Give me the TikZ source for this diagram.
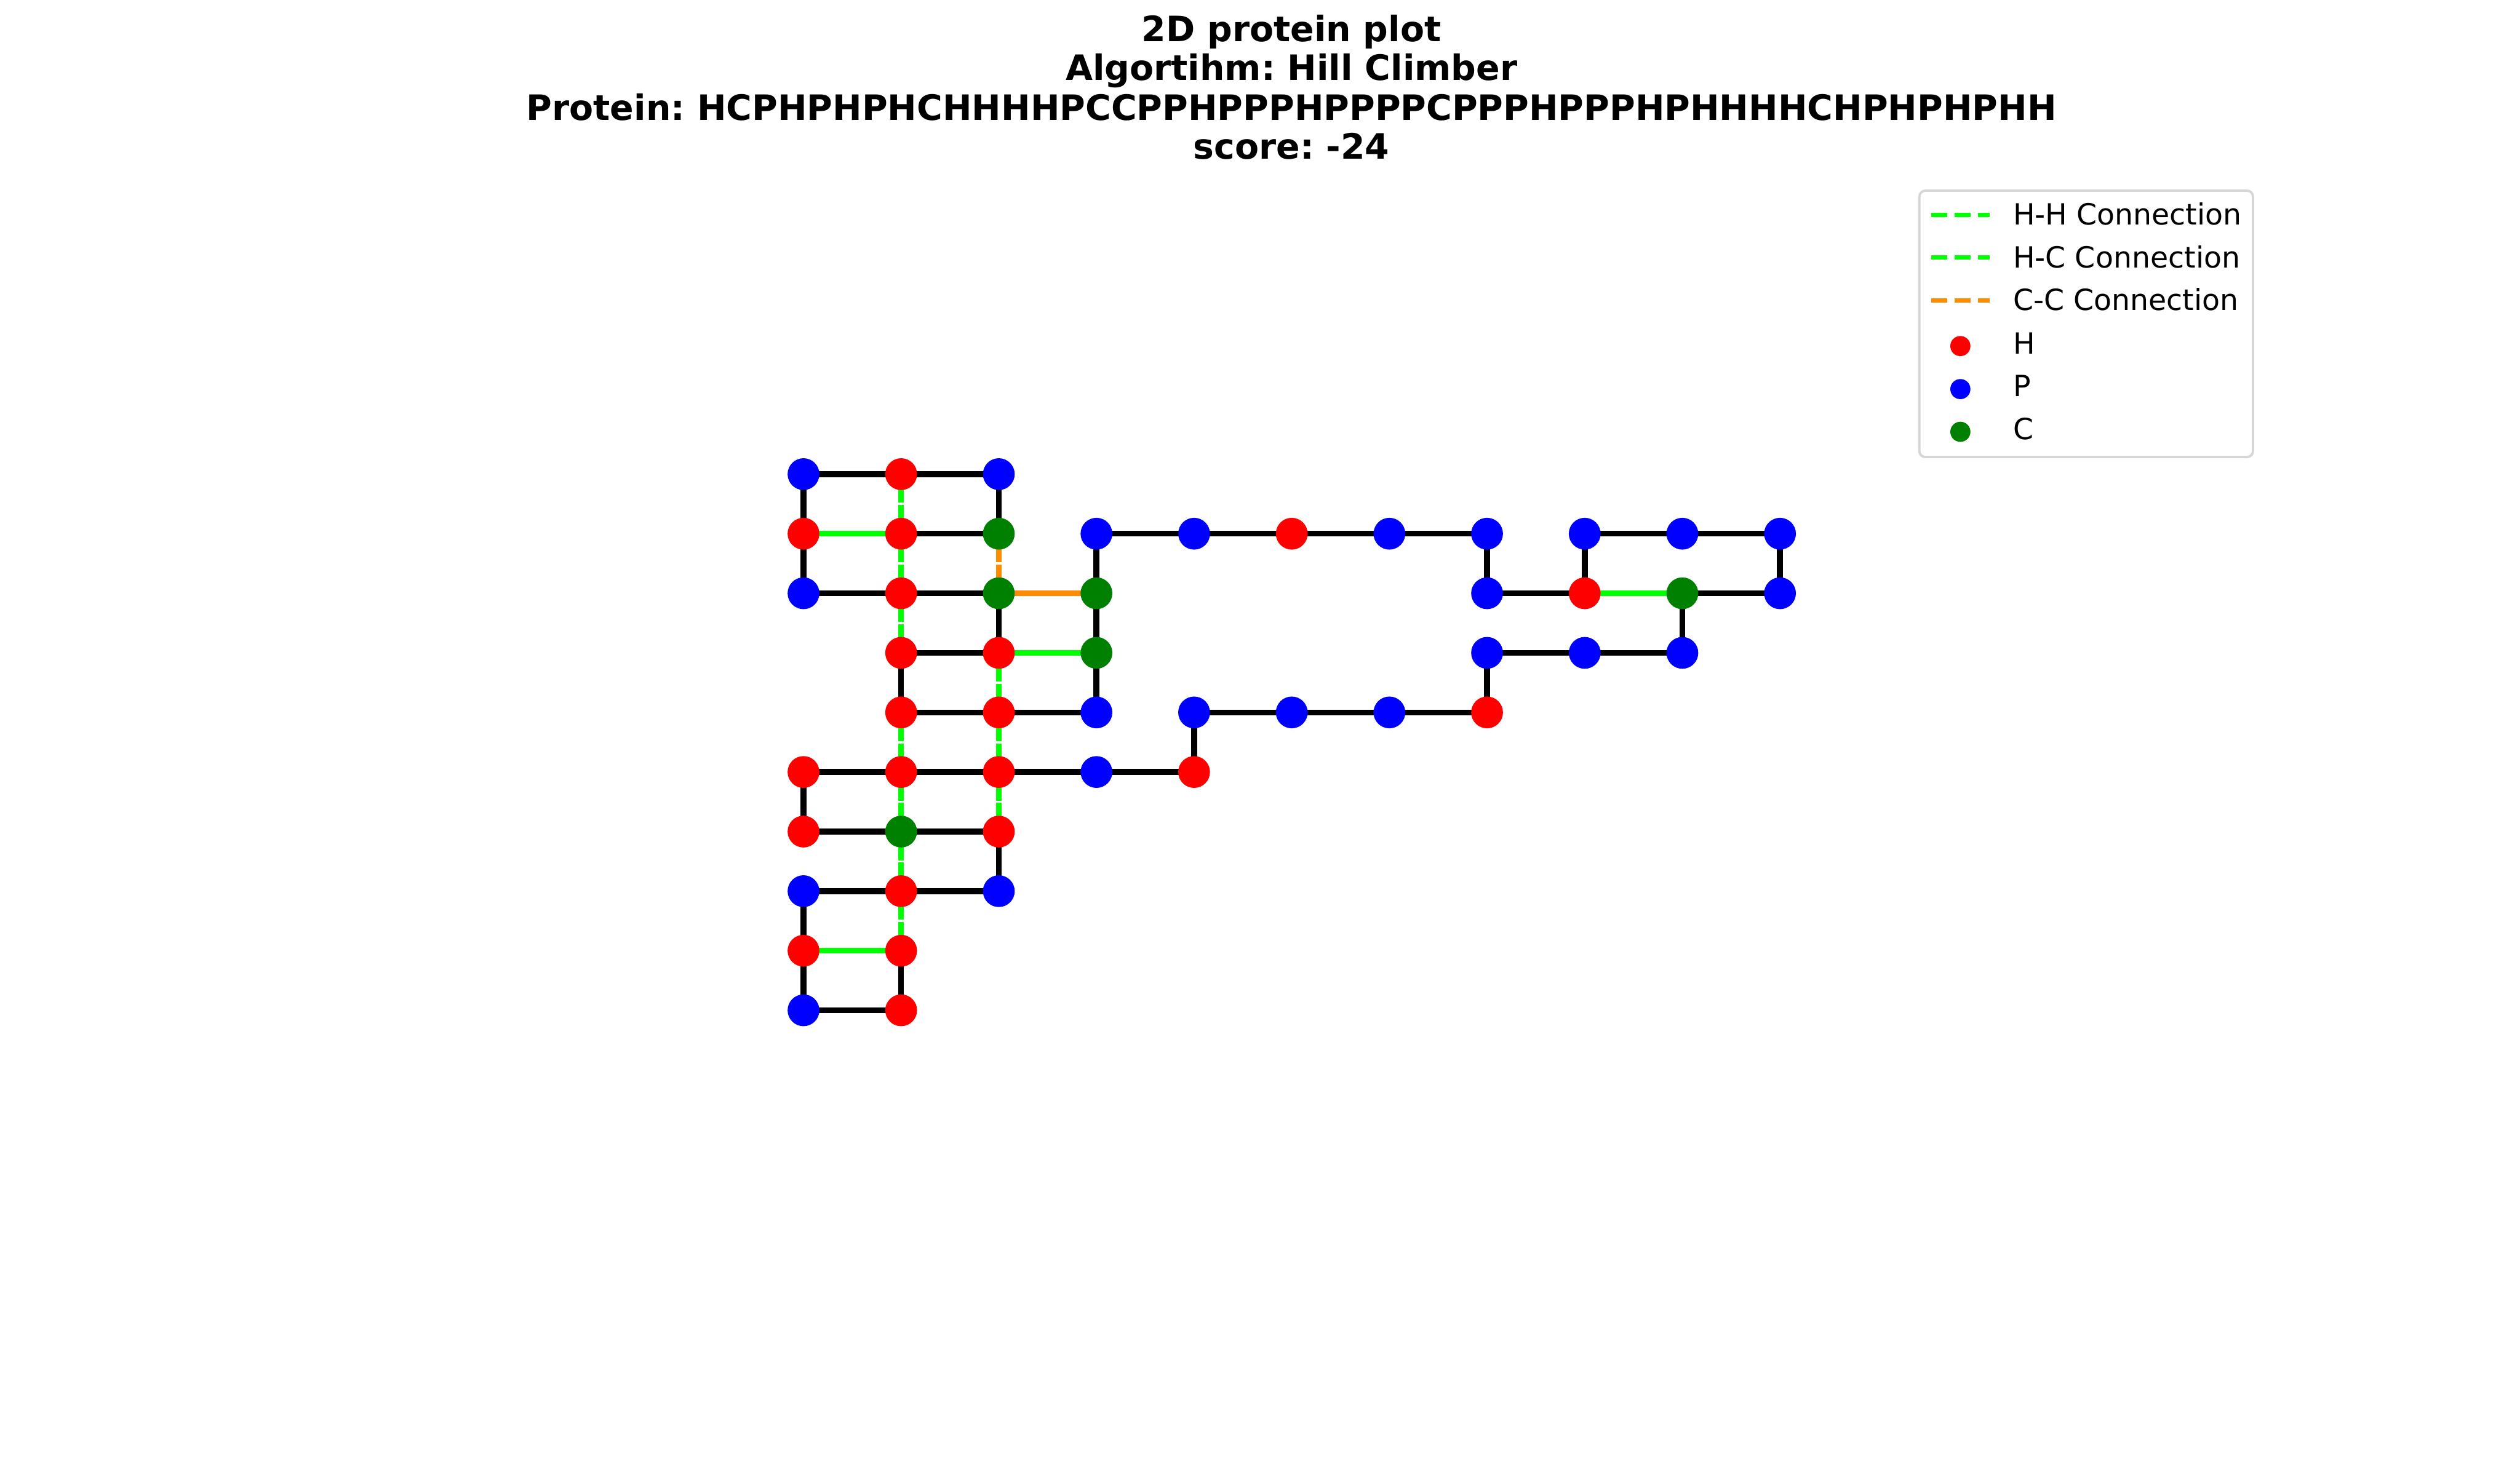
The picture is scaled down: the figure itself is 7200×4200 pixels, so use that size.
\documentclass[tikz,border=0pt]{standalone}
\usepackage{fontspec}
\setmainfont{DejaVu Sans}
\usepackage{tikz}
\usetikzlibrary{backgrounds}
\frenchspacing
\definecolor{hgreen}{rgb}{0,1,0}
\definecolor{ccorange}{rgb}{1,0.549,0}
\definecolor{cgreen}{rgb}{0,0.5,0}
\definecolor{framegray}{gray}{0.84}
\tikzset{
    site/.style={circle, draw=none, inner sep=0pt, minimum size=10.9pt},
    node_h/.style={site, fill=red},
    node_p/.style={site, fill=blue},
    node_c/.style={site, fill=cgreen},
    bond/.style={black, line width=2pt},
    contact_hh/.style={hgreen, line width=2pt, dash pattern=on 7.4pt off 3.2pt},
    contact_cc/.style={ccorange, line width=2pt, dash pattern=on 7.4pt off 3.2pt},
    key_line/.style={line width=1.5pt, dash pattern=on 5.55pt off 2.4pt},
    key_dot/.style={circle, draw=none, inner sep=0pt, minimum size=6.9pt},
    key_text/.style={anchor=base west, inner sep=0pt, font=\fontsize{10}{12}\selectfont},
    title_line/.style={anchor=base, inner sep=0pt, font=\fontsize{12}{14}\selectfont\bfseries}
}
\begin{document}
\begin{tikzpicture}[x=0.12pt, y=-0.12pt]
            \useasboundingbox (0,0) rectangle (7200,4200);

            % Title
            \node[title_line] (title1) at (3690,118) {2D protein plot};
            \node[title_line] (title2) at (3690,230) {Algortihm: Hill Climber};
            \node[title_line] (title3) at (3690,343) {Protein: HCPHPHPHCHHHHPCCPPHPPPHPPPPCPPPHPPPHPHHHHCHPHPHPHH};
            \node[title_line] (title4) at (3690,454) {score: -24};

            % Amino acids (index/column/row/type)
            \foreach \i/\c/\r/\t in {1/1/1/h, 2/2/1/c, 3/2/0/p, 4/1/0/h, 5/0/0/p, 6/0/1/h, 7/0/2/p, 8/1/2/h, 9/2/2/c, 10/2/3/h,
                                     11/1/3/h, 12/1/4/h, 13/2/4/h, 14/3/4/p, 15/3/3/c, 16/3/2/c, 17/3/1/p, 18/4/1/p, 19/5/1/h, 20/6/1/p,
                                     21/7/1/p, 22/7/2/p, 23/8/2/h, 24/8/1/p, 25/9/1/p, 26/10/1/p, 27/10/2/p, 28/9/2/c, 29/9/3/p, 30/8/3/p,
                                     31/7/3/p, 32/7/4/h, 33/6/4/p, 34/5/4/p, 35/4/4/p, 36/4/5/h, 37/3/5/p, 38/2/5/h, 39/1/5/h, 40/0/5/h,
                                     41/0/6/h, 42/1/6/c, 43/2/6/h, 44/2/7/p, 45/1/7/h, 46/0/7/p, 47/0/8/h, 48/0/9/p, 49/1/9/h, 50/1/8/h}
                \node[node_\t] (n\i) at ({2295.7+279*\c},{1355+170.26*\r}) {};

            \begin{scope}[on background layer]
                % Backbone
                \foreach \a [count=\nxt from 2] in {1,...,49}
                    \draw[bond] (n\a.center) -- (n\nxt.center);

                % H-H and H-C contacts (drawn from both ends)
                \foreach \p/\q in {4/1, 1/8, 8/11, 10/13, 12/39, 13/38, 39/42, 38/43, 42/45, 45/50, 6/1, 10/15, 47/50, 23/28} {
                    \draw[contact_hh] (n\p.center) -- (n\q.center);
                    \draw[contact_hh] (n\q.center) -- (n\p.center);
                }

                % C-C contacts
                \foreach \p/\q in {2/9, 9/16} {
                    \draw[contact_cc] (n\p.center) -- (n\q.center);
                    \draw[contact_cc] (n\q.center) -- (n\p.center);
                }
            \end{scope}

            % Legend
            \draw[framegray, fill=white, line width=0.8pt, rounded corners=2pt] (5484,545) rectangle (6437,1306);
            \draw[key_line, hgreen] (5518,614) -- (5684,614);
            \draw[key_line, hgreen] (5518,736) -- (5684,736);
            \draw[key_line, ccorange] (5518,859) -- (5684,859);
            \node[key_dot, fill=red] (key_h) at (5601,989) {};
            \node[key_dot, fill=blue] (key_p) at (5601,1112) {};
            \node[key_dot, fill=cgreen] (key_c) at (5601,1234) {};
            \node[key_text] (lab_hh) at (5750,642) {H-H Connection};
            \node[key_text] (lab_hc) at (5750,765) {H-C Connection};
            \node[key_text] (lab_cc) at (5750,887) {C-C Connection};
            \node[key_text] (lab_h) at (5750,1011) {H};
            \node[key_text] (lab_p) at (5750,1132) {P};
            \node[key_text] (lab_c) at (5750,1256) {C};
\end{tikzpicture}
\end{document}
